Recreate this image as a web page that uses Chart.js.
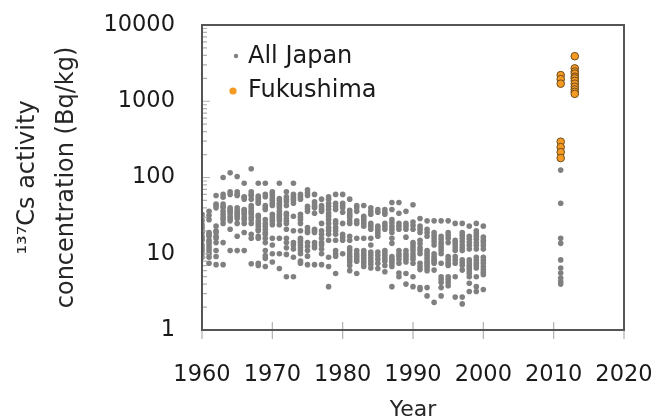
<!DOCTYPE html>
<html>
<head>
<meta charset="utf-8">
<script src="https://cdn.jsdelivr.net/npm/chart.js@4.4.0/dist/chart.umd.min.js"></script>
<style>
  html, body { margin: 0; padding: 0; background: #fff; }
</style>
</head>
<body>
<canvas id="chart1" width="656" height="416"></canvas>
<script>
// valores, uma lista por ano
const japan1960s = [
  [33, 30, 27, 24, 22, 20, 19, 17, 16, 15, 13, 12, 11, 10, 9],
  [36, 32, 28, 19, 18, 17, 15, 14, 13, 12, 11, 10, 9, 7.5],
  [58, 45, 43, 40, 23, 20, 19, 17, 16, 14, 11, 9.2, 7.2],
  [100, 60, 55, 45, 42, 40, 36, 33, 30, 28, 25, 14, 7.2],
  [115, 65, 60, 40, 38, 36, 34, 31, 29, 27, 21, 11],
  [103, 65, 60, 58, 40, 37, 35, 33, 31, 29, 25, 17, 11],
  [84, 56, 55, 52, 38, 37, 35, 33, 30, 28, 25, 19, 11],
  [130, 65, 60, 58, 52, 43, 40, 37, 35, 33, 30, 28, 25, 18, 16, 7.4],
  [84, 57, 54, 51, 48, 46, 32, 30, 27, 25, 23, 21, 20, 17, 16, 7.5, 7],
  [84, 60, 56, 43, 40, 38, 28, 25, 23, 21, 19, 18, 16, 14, 11, 9.5, 8.7, 6.8]
];
const japan1970s = [
  [65, 61, 57, 53, 50, 46, 43, 33, 30, 28, 26, 24, 16, 13, 10, 7.8],
  [84, 53, 50, 46, 43, 40, 36, 33, 31, 29, 27, 24, 16, 10, 6.4],
  [65, 56, 52, 48, 43, 34, 32, 29, 27, 25, 21, 16, 14, 12, 9.8, 5],
  [84, 60, 56, 53, 50, 46, 31, 20, 14, 13, 11.5, 9, 5],
  [60, 56, 52, 33, 30, 28, 25, 20, 16, 15, 14, 13, 12, 11, 10, 8, 7.5],
  [69, 63, 58, 42, 39, 36, 22, 20, 19, 14, 12.5, 11, 9.3, 7.2],
  [60, 48, 45, 42, 40, 34, 21, 20, 19, 14, 13, 12, 7.2],
  [52, 43, 40, 38, 36, 25, 20, 18, 16, 14, 13, 11.5, 10, 7.2],
  [56, 52, 46, 42, 38, 34, 31, 28, 25, 22, 20, 18, 15, 9, 6.8, 3.7],
  [60, 46, 42, 38, 27, 25, 22, 20, 18, 15, 11, 10, 9.3, 5.5]
];
const japan1980s = [
  [60, 46, 43, 40, 35, 25, 18, 16.5, 15, 10],
  [52, 37, 34, 32, 30, 27, 25, 17, 15, 12, 11, 10, 9.2, 8.5, 7.8, 7, 6],
  [43, 40, 36, 27, 25, 16, 11, 10, 9.3, 8.6, 8, 5.5],
  [43, 31, 29, 27, 25, 23, 16, 11, 10.2, 9.5, 8.7, 8, 7.4, 6.8],
  [40, 36, 33, 25, 23, 21, 16, 13, 10.5, 9.6, 8.8, 8, 7.3, 6.5],
  [38, 35, 23, 21.5, 20, 18.5, 17, 10.5, 9.5, 8.5, 7.5, 6.4],
  [38, 35, 33, 25, 23, 21, 11, 10.2, 9.5, 8.7, 8, 7, 5.8],
  [47, 38, 28, 25.5, 23, 21, 19, 16, 13.7, 9.2, 8.6, 8, 7.4, 6.8, 3.7],
  [47, 34, 25, 23, 21, 11, 10, 9.3, 8.4, 7.5, 5.6, 5],
  [36, 25, 23, 21, 16.5, 11, 10, 9.3, 8.5, 7.8, 5.5, 4]
];
const japan1990s = [
  [44, 26, 23.5, 21, 14, 13, 12, 11, 10, 9.2, 8.5, 7.5, 5, 3.7],
  [29, 23, 21, 19, 15, 13.5, 12, 11, 10, 7.5, 6.8, 6.2, 3.6, 3.4],
  [27, 21, 19, 17, 11, 10.2, 9.5, 8.7, 8, 7.5, 7, 6.5, 6, 3.6, 2.8],
  [27, 19, 17.5, 16, 14.5, 13, 10, 9.2, 8.5, 8, 7.5, 6.1, 2.3],
  [27, 17, 15.5, 14, 13, 12, 11, 10, 7.5, 5, 4.6, 4.2, 3.6, 2.8],
  [27, 19, 17.5, 16, 14, 9.2, 8.5, 7.8, 7.4, 7, 5, 4.6, 4.2, 3.8],
  [25, 15, 14, 13, 12, 11, 9.2, 8.3, 7.5, 5, 2.7],
  [25, 19, 17.5, 16, 14.5, 13, 12, 11, 8.3, 7.6, 7, 6.1, 2.7, 2.2],
  [23, 17, 15.5, 14, 12.8, 11.5, 8.3, 7.6, 7, 6.5, 6, 5.5, 5, 4.1, 3.2],
  [25, 20, 18.5, 17, 15.5, 14, 12.8, 11.5, 9, 8.2, 7.5, 7, 6.5, 5, 3.7, 3.2]
];
const japan2000 = [23, 16.5, 15, 14, 12.8, 11.5, 9, 8.2, 7.5, 6.8, 6.2, 5.7, 5.3, 3.4];
const japan2011 = [125, 46, 16, 13.7, 8.3, 6.5, 5.6, 4.8, 4.3, 4.0];
const fukushima2011 = [2200, 1950, 1700, 295, 250, 215, 180];
const fukushima2013 = [3900, 2700, 2450, 2300, 2100, 2000, 1850, 1700, 1550, 1430, 1330, 1250];

const xTicks = [1960, 1970, 1980, 1990, 2000, 2010, 2020];
const yTicks = [1, 10, 100, 1000, 10000];

function pontos(ano, valores) {
  return valores.map(v => ({ x: ano, y: v }));
}

let japao = [];
[[1960, japan1960s], [1970, japan1970s], [1980, japan1980s], [1990, japan1990s]].forEach(([inicio, decada]) => {
  decada.forEach((valores, i) => { japao = japao.concat(pontos(inicio + i, valores)); });
});
japao = japao.concat(pontos(2000, japan2000), pontos(2011, japan2011));
const fukushima = pontos(2011, fukushima2011).concat(pontos(2013, fukushima2013));

const fonte = 'DejaVu Sans';

function semPadding(s) {
  s.paddingTop = 0; s.paddingBottom = 0; s.paddingLeft = 0; s.paddingRight = 0;
}

// moldura, marcas dos eixos e legenda
const moldura = {
  id: 'moldura',
  afterDraw(chart) {
    const { ctx, chartArea: a, scales: { x, y } } = chart;
    ctx.save();
    ctx.strokeStyle = '#b0b0b0';
    ctx.lineWidth = 1.2;
    ctx.beginPath();
    for (let d = 1; d < 10000; d *= 10) {
      for (let m = 1; m <= 10; m++) {
        const py = y.getPixelForValue(d * m);
        const len = (m === 1 || m === 10) ? 8 : 5;
        ctx.moveTo(a.left, py);
        ctx.lineTo(a.left + len, py);
      }
    }
    xTicks.forEach(v => {
      const px = x.getPixelForValue(v);
      ctx.moveTo(px, a.bottom - 8);
      ctx.lineTo(px, a.bottom + 9);
    });
    ctx.stroke();

    ctx.strokeStyle = '#555';
    ctx.lineWidth = 2;
    ctx.strokeRect(a.left, a.top, a.right - a.left, a.bottom - a.top);

    // legenda
    const ds = chart.data.datasets;
    ctx.font = '24px "' + fonte + '"';
    ctx.textBaseline = 'middle';
    ctx.fillStyle = '#1a1a1a';
    ctx.fillText(ds[1].label, 248, 57);
    ctx.fillText(ds[0].label, 248, 91);
    ctx.fillStyle = ds[1].backgroundColor;
    ctx.beginPath(); ctx.arc(236, 56, 2.2, 0, Math.PI * 2); ctx.fill();
    ctx.fillStyle = ds[0].backgroundColor;
    ctx.beginPath(); ctx.arc(233, 91, 3.6, 0, Math.PI * 2); ctx.fill();
    ctx.restore();
  }
};

new Chart(document.getElementById('chart1'), {
  type: 'scatter',
  data: {
    datasets: [{
      label: 'Fukushima',
      data: fukushima,
      backgroundColor: '#f59a23',
      borderColor: '#6d4c1d',
      borderWidth: 1,
      pointRadius: 3.8,
      order: 0
    }, {
      label: 'All Japan',
      data: japao,
      backgroundColor: '#808080',
      borderWidth: 0,
      pointRadius: 2.8,
      order: 1
    }]
  },
  options: {
    responsive: false,
    animation: false,
    layout: { padding: { top: 25, right: 32, bottom: 0, left: 0 } },
    plugins: {
      legend: { display: false },
      tooltip: { enabled: false }
    },
    scales: {
      x: {
        type: 'linear',
        min: 1960,
        max: 2020,
        afterBuildTicks: s => { s.ticks = xTicks.map(v => ({ value: v })); },
        afterFit: s => { s.height = 86; semPadding(s); },
        grid: { display: false, drawTicks: false },
        border: { display: false },
        ticks: {
          padding: 32,
          color: '#1a1a1a',
          font: { family: fonte, size: 22.5 },
          callback: v => String(v)
        },
        title: {
          display: true,
          text: 'Year',
          color: '#262626',
          font: { family: fonte, size: 22, lineHeight: 0.55 },
          padding: { top: 0, bottom: 0 }
        }
      },
      y: {
        type: 'logarithmic',
        min: 1,
        max: 10000,
        afterBuildTicks: s => { s.ticks = yTicks.map(v => ({ value: v })); },
        afterFit: s => { s.width = 202; semPadding(s); },
        grid: { display: false, drawTicks: false },
        border: { display: false },
        ticks: {
          padding: 27,
          color: '#1a1a1a',
          font: { family: fonte, size: 22.5 },
          callback: v => String(v)
        },
        title: {
          display: true,
          text: ['\u00b9\u00b3\u2077Cs activity', 'concentration (Bq/kg)'],
          color: '#262626',
          font: { family: fonte, size: 24, lineHeight: 1.6 },
          padding: { top: 9, bottom: 0 }
        }
      }
    }
  },
  plugins: [moldura]
});
</script>
</body>
</html>
